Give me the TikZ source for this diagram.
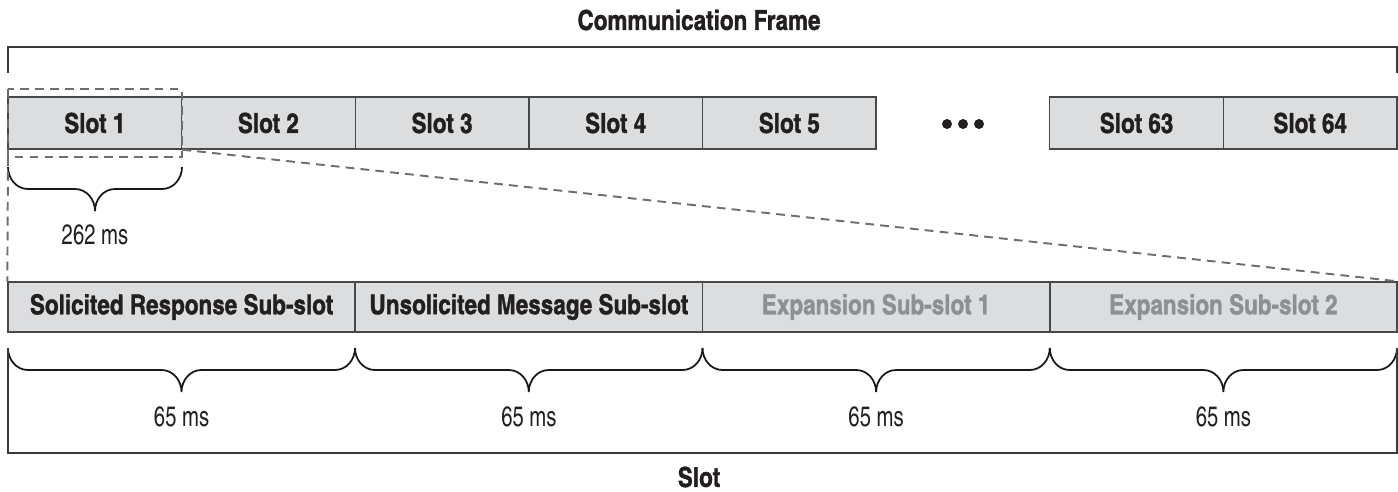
\documentclass[tikz,border=0pt]{standalone}
\usepackage{fontspec}
\setmainfont{texgyreheroscn}[Extension=.otf,UprightFont=*-regular,BoldFont=*-bold,BoldFeatures={FakeBold=1.2}]
\usetikzlibrary{positioning}

\definecolor{slotfill}{HTML}{DCDDDF}
\definecolor{boxline}{HTML}{47484A}
\definecolor{frameline}{HTML}{3A3A3C}
\definecolor{dimtext}{HTML}{8D8F91}
\definecolor{zoomgray}{HTML}{6D6E70}
\definecolor{inktext}{HTML}{231F20}

\tikzset{
  slotbox/.style={draw=boxline, line width=0.8pt, fill=slotfill, inner sep=0pt,
    minimum width=3.4725cm, minimum height=1.04cm, text=inktext,
    font=\fontsize{15.6}{18}\selectfont\bfseries},
  subbox/.style={slotbox, minimum width=6.945cm, minimum height=1.0cm},
  framebar/.style={draw=frameline, line width=0.9pt},
  zoomline/.style={draw=zoomgray, line width=1.1pt, dash pattern=on 5pt off 3.5pt},
  braceline/.style={draw=black!90, line width=1pt},
  timelabel/.style={text=inktext, font=\fontsize{16}{18}\selectfont\addfontfeature{FakeStretch=0.88}},
  titlelabel/.style={text=inktext, font=\fontsize{15.6}{18}\selectfont\bfseries}
}

% curly brace: left x, right x, top y (picture pixels)
\newcommand{\timebrace}[3]{%
  \pgfmathsetmacro\braceMid{(#1+#2)/2}%
  \pgfmathsetmacro\braceA{\braceMid-20}%
  \pgfmathsetmacro\braceB{#2-20}%
  \pgfmathsetmacro\braceY{#3+22}%
  \pgfmathsetmacro\braceTip{#3+44}%
  \draw[braceline] (#1,#3) to[out=-90,in=180] ++(20,22)
    -- (\braceA,\braceY) to[out=0,in=90] (\braceMid,\braceTip)
    to[out=90,in=180] ++(20,-22) -- (\braceB,\braceY)
    to[out=0,in=-90] (#2,#3);}

\begin{document}
\begin{tikzpicture}[x=0.02cm,y=-0.02cm]
\useasboundingbox (0,0) rectangle (1398,491);

% communication frame
\node[titlelabel] (frametitle) at (699,20) {Communication Frame};
\draw[framebar] (8,73) -- (8,47) -- (1397,47) -- (1397,73);

% slots
\foreach \n/\p in {1/1,2/2,3/3,4/4,5/5,63/7,64/8}
  \node[slotbox] (slot\n) at ({8+(\p-0.5)*173.625},123) {Slot \n};
\foreach \x in {947,963,979}
  \fill[inktext] (\x,124) circle[radius=0.1cm];

% zoom on slot 1
\draw[zoomline] (8,89) rectangle (182,157);

\timebrace{8}{182}{167}
\node[timelabel] (slottime) at (95,235) {262 ms};

% sub-slots
\node[subbox] (solicited) at (181.6,307) {Solicited Response Sub-slot};
\node[subbox] (unsolicited) at (528.9,307) {Unsolicited Message Sub-slot};
\node[subbox, text=dimtext] (expansion1) at (876.1,307) {Expansion Sub-slot 1};
\node[subbox, text=dimtext] (expansion2) at (1223.4,307) {Expansion Sub-slot 2};

\draw[zoomline] (8,157) -- (solicited.north west);
\draw[zoomline] (slot1.south east) -- (expansion2.north east);

\timebrace{8}{355}{348}
\timebrace{355}{702.5}{348}
\timebrace{702.5}{1049.75}{348}
\timebrace{1049.75}{1397}{348}

\node[timelabel] (time1) at (181.6,417) {65 ms};
\node[timelabel] (time2) at (528.9,417) {65 ms};
\node[timelabel] (time3) at (876.1,417) {65 ms};
\node[timelabel] (time4) at (1223.4,417) {65 ms};

% slot
\draw[framebar] (8,348) -- (8,453) -- (1397,453) -- (1397,348);
\node[titlelabel] (slottitle) at (699,477) {Slot};
\end{tikzpicture}
\end{document}
